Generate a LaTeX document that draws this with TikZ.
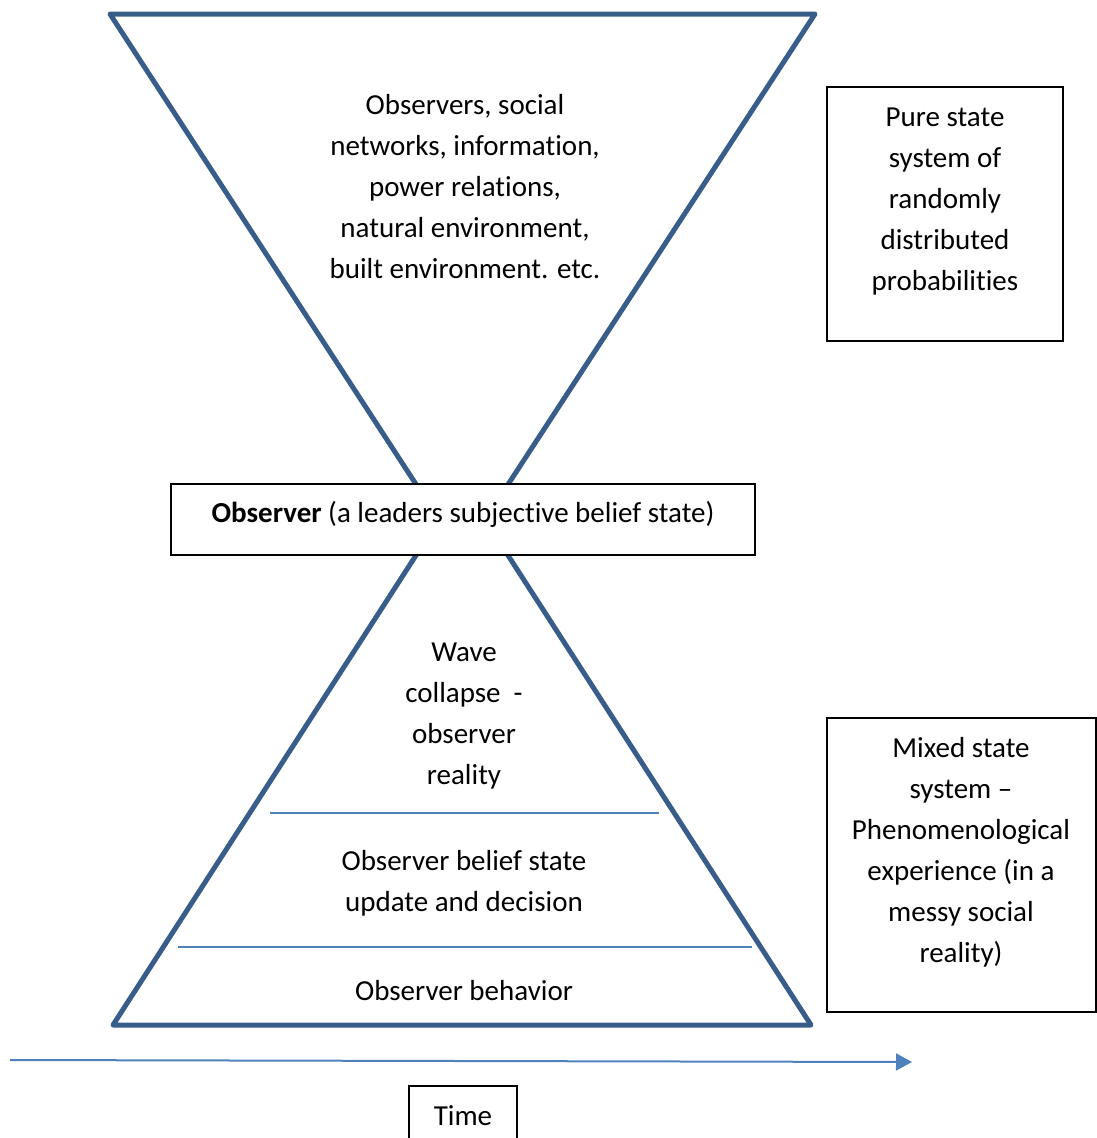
\documentclass[tikz,border=0pt]{standalone}
\usepackage{fontspec}
\setmainfont{Carlito}[Ligatures={TeX,NoCommon}]
\usetikzlibrary{positioning,arrows.meta}
\definecolor{hourblue}{RGB}{56,93,138}
\definecolor{lineblue}{RGB}{79,129,189}

\begin{document}
\begin{tikzpicture}[x=1pt,y=-1pt,font=\fontsize{29}{41}\selectfont,
    glass/.style={hourblue,line width=5pt,line join=round},
    layer/.style={lineblue,line width=2pt},
    box/.style={draw=black,line width=1.6pt,fill=white},
    txt/.style={align=center,inner sep=0pt}]
  \clip (0,0) rectangle (1097,1138);
  % Hourglass (apexes hidden behind the observer box)
  \begin{scope}
    \clip (0,0) rectangle (1097,550);
    \draw[glass] (110,14) -- (815,14) -- (462,555) -- cycle;
  \end{scope}
  \begin{scope}
    \clip (0,488) rectangle (1097,1138);
    \draw[glass] (462,484) -- (811,1025) -- (113,1025) -- cycle;
  \end{scope}
  % Layers in the lower half
  \draw[layer] (270,813) -- (659,813);
  \draw[layer] (178,947) -- (752,947);
  % Texts in the hourglass
  \node[txt] (world) at (465,187) {Observers, social\\networks, information,\\power relations,\\natural environment,\\built environment. etc.};
  \node[txt] (wave) at (464,716) {Wave\\collapse\ \ -\\observer\\reality};
  \node[txt] (update) at (464,883) {Observer belief state\\update and decision};
  \node[txt] (behave) at (464,991) {Observer behavior};
  % Observer box
  \node[box,minimum width=584,minimum height=71] (observer) at (463,519.5) {};
  \node[txt] (obstxt) at (463,514) {\textbf{Observer} (a leaders subjective belief state)};
  % Side boxes
  \node[box,minimum width=236,minimum height=254] (purebox) at (945,214) {};
  \node[txt] (puretxt) at (945,202) {Pure state\\system of\\randomly\\distributed\\probabilities};
  \node[box,minimum width=269,minimum height=294] (mixbox) at (961.5,865) {};
  \node[txt] (mixtxt) at (961,852) {Mixed state\\system --\\Phenomenological\\experience (in a\\messy social\\reality)};
  % Time axis
  \coordinate (tstart) at (10,1060);
  \coordinate (tend) at (912,1062);
  \draw[lineblue,line width=2pt,-{Triangle[length=16pt,width=17pt]}] (tstart) -- (tend);
  \node[box,minimum width=108,minimum height=60] (time) at (463,1116) {Time};
\end{tikzpicture}
\end{document}
